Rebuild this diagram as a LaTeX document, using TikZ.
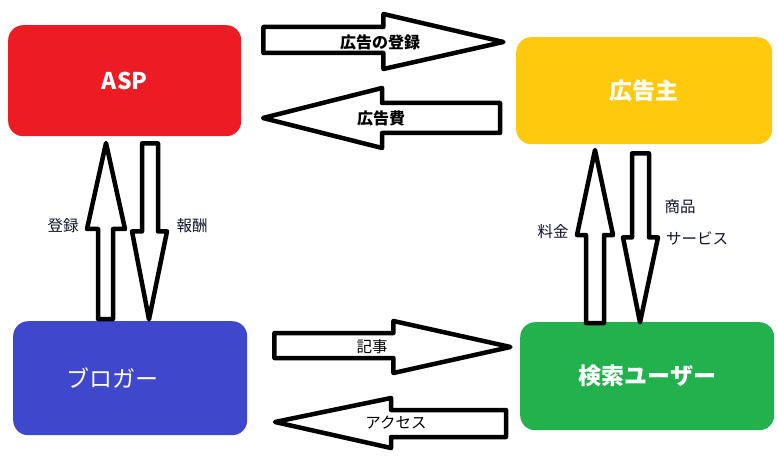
\documentclass[tikz,border=0pt]{standalone}
\usepackage{fontspec}
\setmainfont{Noto Sans CJK JP}
\usetikzlibrary{calc}
\definecolor{aspred}{RGB}{237,28,36}
\definecolor{advyellow}{RGB}{255,201,14}
\definecolor{blogblue}{RGB}{63,72,204}
\definecolor{usergreen}{RGB}{34,177,76}
\definecolor{ink}{RGB}{0,0,0}
\definecolor{txt}{RGB}{16,18,40}

\begin{document}
\begin{tikzpicture}[x=1pt,y=-1pt,
 box/.style={rounded corners=15pt,inner sep=0pt,anchor=north west,text=white,font=\fontsize{23}{27}\selectfont\bfseries},
 barrow/.style={draw=ink,fill=white,line width=4.5pt,line join=round},
 al/.style={font=\fontsize{16}{19}\selectfont\bfseries,inner sep=1pt},
 sl/.style={font=\fontsize{15.5}{18}\selectfont,text=txt,inner sep=1pt}]
 \useasboundingbox (0,0) rectangle (778,462);
 % boxes
 \node[box,fill=aspred,minimum width=233,minimum height=111](asp) at (8,25){ASP};
 \node[box,fill=advyellow,minimum width=256,minimum height=107](adv) at (516,37){広告主};
 \node[box,fill=blogblue,minimum width=234,minimum height=114,
  label={[text=white,font=\fontsize{23}{27}\selectfont,xshift=-18pt]center:ブロガー}](blog) at (13,321){};
 \node[box,fill=usergreen,minimum width=254,minimum height=108](user) at (520,322){検索ユーザー};
 % horizontal arrows
 \draw[barrow] ($(asp.north east)+(22,2)$) -- ++(120,0) -- ++(0,-13) -- ++(120,28)
  -- ++(-120,27) -- ++(0,-16) -- ++(-120,0) -- cycle;
 \draw[barrow] ($(adv.north west)+(-16,66)$) -- ++(-118,0) -- ++(0,-15) -- ++(-119,30)
  -- ++(119,30) -- ++(0,-15) -- ++(118,0) -- cycle;
 \draw[barrow] ($(blog.north east)+(27,12)$) -- ++(119,0) -- ++(0,-12) -- ++(117,26)
  -- ++(-117,26) -- ++(0,-15) -- ++(-119,0) -- cycle;
 \draw[barrow] ($(user.north west)+(-14,88)$) -- ++(-115,0) -- ++(0,-12) -- ++(-116,24)
  -- ++(116,26) -- ++(0,-11) -- ++(115,0) -- cycle;
 % vertical arrows
 \draw[barrow] ($(blog.north west)+(85,-2)$) -- ++(0,-90) -- ++(-11,0) -- ++(19,-86)
  -- ++(19,86) -- ++(-12,0) -- ++(0,90) -- cycle;
 \draw[barrow] ($(asp.south west)+(134,7)$) -- ++(16,0) -- ++(0,88) -- ++(9,0)
  -- ++(-18,88) -- ++(-17,-88) -- ++(10,0) -- cycle;
 \draw[barrow] ($(user.north west)+(66,1)$) -- ++(0,-88) -- ++(-9,0) -- ++(18,-85)
  -- ++(18,85) -- ++(-9,0) -- ++(0,88) -- cycle;
 \draw[barrow] ($(adv.south west)+(116,9)$) -- ++(17,0) -- ++(0,84) -- ++(9,0)
  -- ++(-18,85) -- ++(-17,-85) -- ++(9,0) -- cycle;
 % labels
 \node[al](reg) at (380,42){広告の登録};
 \node[al](fee) at (381,118){広告費};
 \node[sl,text=ink](post) at (372,347){記事};
 \node[sl,text=ink](acc) at (396,423){アクセス};
 \node[sl](signup) at (63,226){登録};
 \node[sl](reward) at (192,226){報酬};
 \node[sl](price) at (553,232){料金};
 \node[sl](goods) at (680,207){商品};
 \node[sl](serv) at (697,238){サービス};
\end{tikzpicture}
\end{document}
